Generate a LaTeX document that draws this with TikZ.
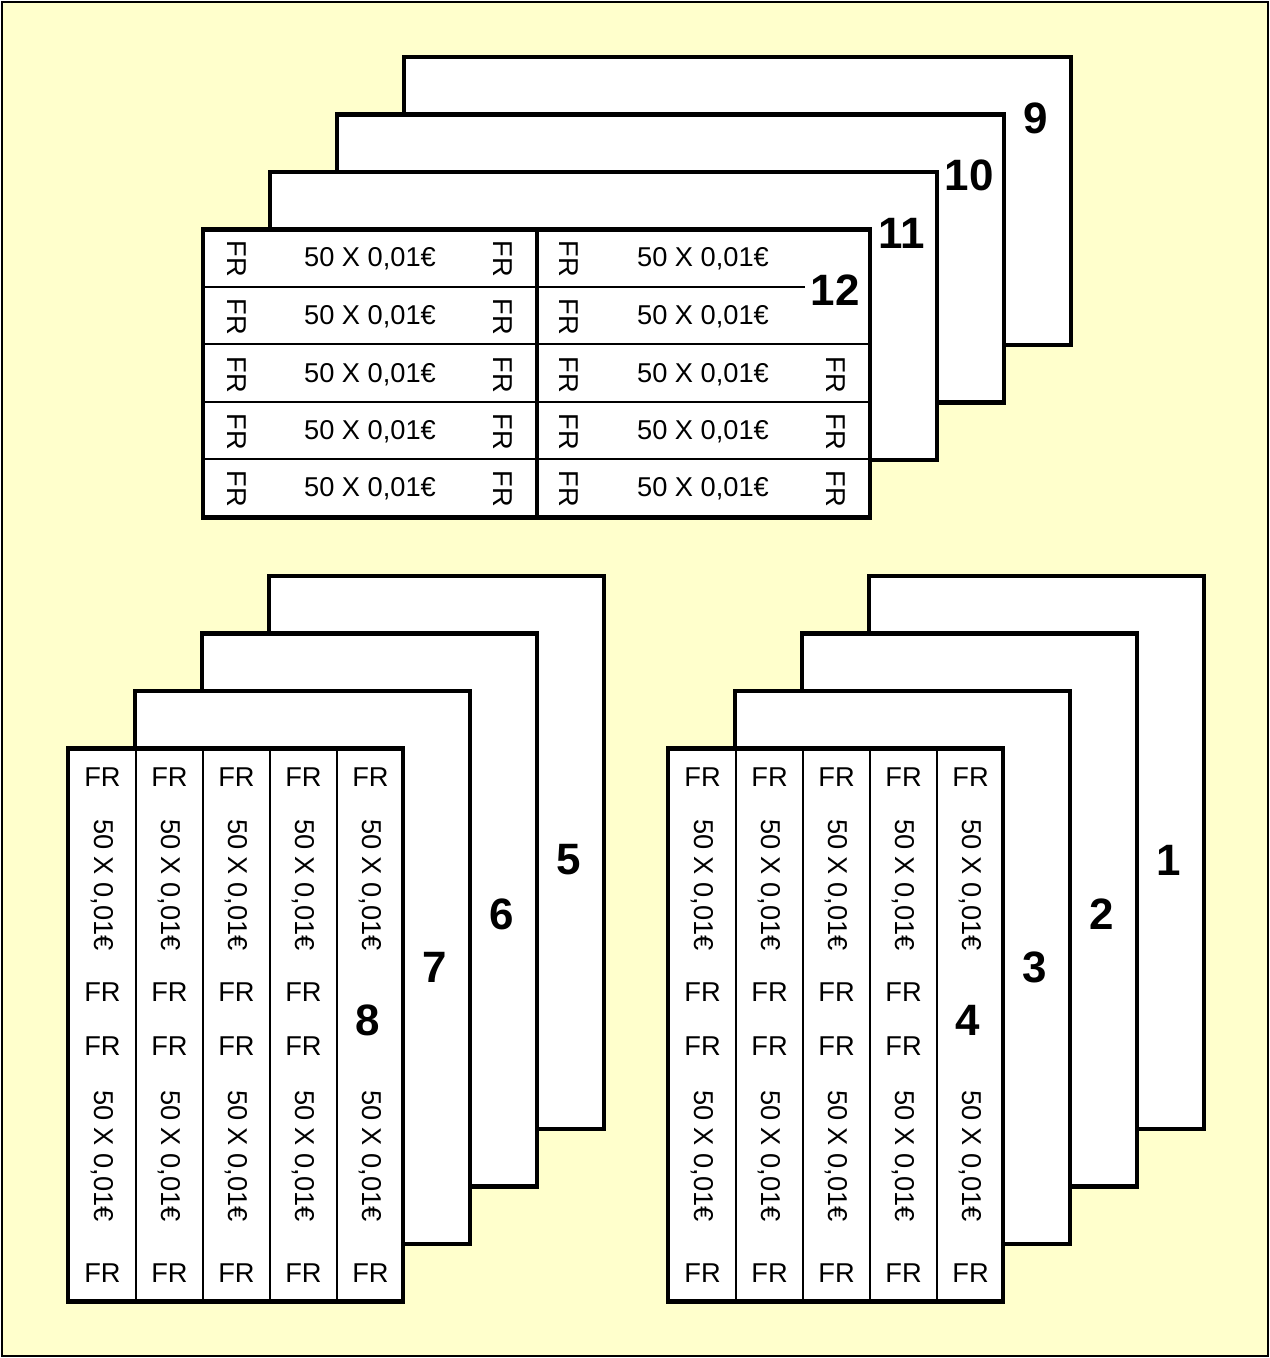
\documentclass[tikz,border=0pt]{standalone}
\usepackage{fontspec}
\setmainfont{Liberation Sans}
\definecolor{bgyellow}{HTML}{FFFFCC}

\begin{document}
\begin{tikzpicture}[x=0.02cm,y=-0.02cm,
  sheet/.style={draw=black,fill=white,line width=2.3pt},
  col/.style={draw=black,line width=1.1pt},
  num/.style={font=\fontsize{25}{30}\selectfont\bfseries},
  txt/.style={font=\fontsize{15.5}{18}\selectfont,inner sep=0pt},
  vtxt/.style={txt,rotate=-90}]
\useasboundingbox (0,0) rectangle (1270,1358);
\path[fill=bgyellow,draw=black,line width=1.5pt] (2,2) rectangle (1268,1356);

% stack 9..12
\foreach \k/\s in {0/9,1/10,2/11,3/12}{
  \draw[sheet] ({404-67*\k},{57+57.5*\k}) rectangle ++(667,288);
  \node[num] (n\s) at ({1036-67*\k},{118+57.5*\k}) {\s};
}
\draw[line width=0.6pt] (202,287) -- (805,287);
\draw[line width=1.1pt] (202,344) -- (870,344);
\draw[line width=0.6pt] (202,402) -- (870,402);
\draw[line width=1.1pt] (202,459) -- (870,459);
\draw[line width=2.3pt] (537,230) -- (537,518);
\foreach \r [count=\i] in {259,317,375,432,489}{
  \node[vtxt] (fa\i) at (237,\r) {FR};
  \node[txt] (va\i) at (370,\r) {50 X 0,01€};
  \node[vtxt] (fb\i) at (503,\r) {FR};
  \node[vtxt] (fc\i) at (569,\r) {FR};
  \node[txt] (vb\i) at (703,\r) {50 X 0,01€};
}
\foreach \r [count=\i from 3] in {375,432,489}
  \node[vtxt] (fd\i) at (836,\r) {FR};

% stacks 5..8 and 1..4
\foreach \gx/\g/\first in {0/L/5,600/R/1}{
  \foreach \k/\ly in {0/860,1/914,2/967,3/1020}{
    \pgfmathtruncatemacro\s{\first+\k}
    \draw[sheet] ({269-67*\k+\gx},{576+57.5*\k}) rectangle ++(335,553);
    \node[num] (n\s) at ({569-67*\k+\gx},\ly) {\s};
  }
  \foreach \c in {136,203,270,337}
    \draw[col] ({\c+\gx},748) -- ({\c+\gx},1301);
  \foreach \c [count=\j] in {102.5,169.5,236.5,303.5,370.5}{
    \node[txt] (top\g\j) at ({\c+\gx},777) {FR};
    \node[vtxt] (up\g\j) at ({\c+\gx},885) {50 X 0,01€};
    \node[vtxt] (lo\g\j) at ({\c+\gx},1156) {50 X 0,01€};
    \node[txt] (bot\g\j) at ({\c+\gx},1273) {FR};
  }
  \foreach \c [count=\j] in {102.5,169.5,236.5,303.5}{
    \node[txt] (ma\g\j) at ({\c+\gx},992) {FR};
    \node[txt] (mb\g\j) at ({\c+\gx},1046) {FR};
  }
}
\end{tikzpicture}
\end{document}
